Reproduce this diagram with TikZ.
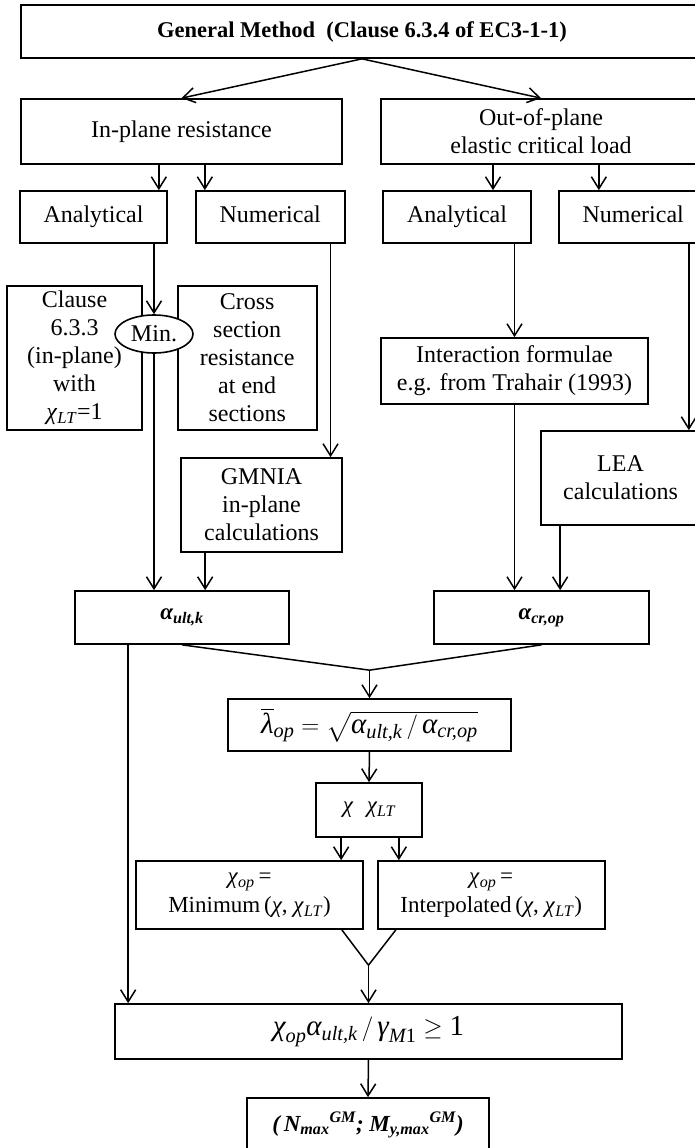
\documentclass[tikz,border=0pt]{standalone}
\usepackage{amsmath}
\usepackage{fontspec}
\setmainfont{Liberation Serif}
\usetikzlibrary{arrows.meta,positioning,shapes.geometric}
\newcommand{\mtx}[1]{\text{\itshape #1}}

\begin{document}
\begin{tikzpicture}[x=1pt,y=-1pt,
  box/.style={rectangle,draw,line width=1.7pt,fill=white,align=center,inner sep=2pt,font=\fontsize{24}{28}\selectfont},
  method/.style={box,minimum width=148pt,minimum height=52pt,text height=17pt,text depth=6pt},
  minbox/.style={ellipse,draw,line width=1.6pt,fill=white,inner sep=0pt,minimum width=78pt,minimum height=38pt,font=\fontsize{24}{28}\selectfont},
  greek/.style={font=\bfseries\itshape\fontsize{23}{26}\selectfont},
  formula/.style={font=\fontsize{29}{32}\selectfont},
  arrow/.style={-{Straight Barb[length=12pt,width=15pt]},line width=1.5pt},
  link/.style={line width=1.5pt}
]
\useasboundingbox (0,0) rectangle (694,1148);
% top and the two branches
\node[box,minimum width=682pt,minimum height=53pt,font=\bfseries\fontsize{22.5}{26}\selectfont] (gm) at (362,31.5) {General Method\ \ (Clause 6.3.4 of EC3-1-1)};
\node[box,minimum width=321pt,minimum height=65pt] (inplane) at (181.5,131.5) {In-plane resistance};
\node[box,minimum width=320pt,minimum height=65pt] (outplane) at (541,131.5) {Out-of-plane\\elastic critical load};
\node[method,minimum width=147pt] (anaL) at (93.5,217) {Analytical};
\node[method,minimum width=149pt,right=27pt of anaL] (numL) {Numerical};
\node[method] (anaR) at (457,217) {Analytical};
\node[method,minimum width=149pt,right=26pt of anaR] (numR) {Numerical};
% in-plane side
\node[box,minimum width=135pt,minimum height=144pt] (clause) at (74.5,358) {Clause\\6.3.3\\(in-plane)\\with\\\textit{χ}\textsubscript{\textit{LT}}=1};
\node[box,minimum width=139pt,minimum height=144pt,right=34pt of clause] (cross) {Cross\\section\\resistance\\at end\\sections};
\node[minbox] (min) at (154,334) {Min.};
\node[box,minimum width=161pt,minimum height=94pt] (gmnia) at (261.5,505) {GMNIA\\in-plane\\calculations};
% out-of-plane side
\node[box,minimum width=267pt,minimum height=66pt] (inter) at (514.5,371) {Interaction formulae\\e.g. from Trahair (1993)};
\node[box,minimum width=159pt,minimum height=94pt] (lea) at (620.5,478) {LEA\\calculations};
\node[box,greek,minimum width=214pt,minimum height=53pt] (ault) at (182,617.5) {α\textsubscript{ult,k}};
\node[box,greek,minimum width=215pt,minimum height=53pt] (acr) at (541.5,617.5) {α\textsubscript{cr,op}};
% slenderness and reduction factors
\node[box,formula,minimum width=283pt,minimum height=52pt] (lam) at (369.5,725) {$\overline{\mtx{λ}}_{\mtx{op}} = \sqrt{\mtx{α}_{\mtx{ult,k}}\,/\,\mtx{α}_{\mtx{cr,op}}}$};
\node[box,minimum width=106pt,minimum height=54pt,font=\itshape\fontsize{23}{26}\selectfont] (chi) at (369,810) {χ\hspace{14pt}χ\textsubscript{LT}};
\node[box,minimum width=227pt,minimum height=68pt,font=\fontsize{23}{29}\selectfont] (minb) at (249.5,895) {\textit{χ}\textsubscript{\textit{op}}\,=\\Minimum\,(\textit{χ}, \textit{χ}\textsubscript{\textit{LT}})};
\node[box,minimum width=227pt,minimum height=68pt,font=\fontsize{23}{29}\selectfont,right=13pt of minb] (interp) {\textit{χ}\textsubscript{\textit{op}}\,=\\Interpolated\,(\textit{χ}, \textit{χ}\textsubscript{\textit{LT}})};
\node[box,formula,minimum width=507pt,minimum height=55pt] (check) at (368.5,1031.5) {$\mtx{χ}_{\mtx{op}}\mtx{α}_{\mtx{ult,k}}\,/\,\mtx{γ}_{\mtx{M}\text{1}} \geq \text{1}$};
\node[box,greek,minimum width=242pt,minimum height=54pt] (res) at (368,1125) {(\,N\textsubscript{max}\textsuperscript{GM}; M\textsubscript{y,max}\textsuperscript{GM})};
% connectors
\draw[arrow] (gm.south) -- (inplane.north);
\draw[arrow] (gm.south) -- (outplane.north);
\draw[arrow] ([xshift=-9pt]inplane.south -| anaL.north east) -- ([xshift=-9pt]anaL.north east);
\draw[arrow] ([xshift=10pt]inplane.south -| numL.north west) -- ([xshift=10pt]numL.north west);
\draw[arrow] ([xshift=36pt]outplane.south -| anaR.north) -- ([xshift=36pt]anaR.north);
\draw[arrow] ([xshift=41pt]outplane.south -| numR.north west) -- ([xshift=41pt]numR.north west);
\draw[arrow] (anaL.south -| min.north) -- (min.north);
\draw[arrow] ([xshift=-15pt]numL.south east) -- ([xshift=-15pt]numL.south east |- gmnia.north);
\draw[arrow] (min.south) -- (min.south |- ault.north);
\draw[arrow] ([xshift=25pt]gmnia.south west) -- ([xshift=25pt]gmnia.south west |- ault.north);
\draw[arrow] (anaR.south -| inter.north) -- (inter.north);
\draw[arrow] (inter.south) -- (inter.south |- acr.north);
\draw[arrow] ([xshift=131pt]numR.south west) -- ([xshift=131pt]numR.south west |- lea.north);
\draw[arrow] ([xshift=20pt]lea.south west) -- ([xshift=20pt]lea.south west |- acr.north);
\coordinate (join1) at ([yshift=28pt]lam.north);
\draw[link] (ault.south) -- (join1) -- (acr.south);
\draw[arrow] (join1) -- (lam.north);
\draw[arrow] (lam.south) -- (chi.north);
\draw[arrow] ([xshift=26pt]chi.south west) -- ([xshift=26pt]chi.south west |- minb.north);
\draw[arrow] ([xshift=-24pt]chi.south east) -- ([xshift=-24pt]chi.south east |- interp.north);
\coordinate (join2) at ([yshift=38pt]check.north);
\draw[link] ([xshift=-22pt]minb.south east) -- (join2) -- ([xshift=19pt]interp.south west);
\draw[arrow] (join2) -- (check.north);
\draw[arrow] ([xshift=54pt]ault.south west) -- ([xshift=54pt]ault.south west |- check.north);
\draw[arrow] (check.south) -- (res.north);
\end{tikzpicture}
\end{document}
